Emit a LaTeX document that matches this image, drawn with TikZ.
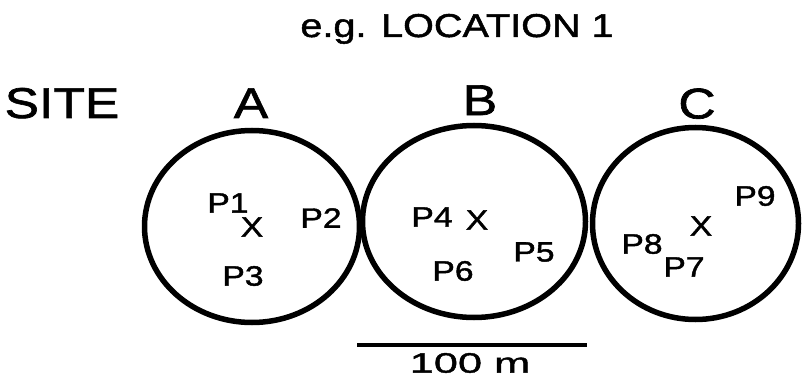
\documentclass[tikz,border=0pt]{standalone}
\usepackage{fontspec}
\setmainfont{Liberation Sans}[FakeStretch=1.2, FakeBold=1.5]
\newfontfamily\barfont{Liberation Sans}[FakeStretch=1.55, FakeBold=1.5]
\usetikzlibrary{shapes.geometric,positioning}
\tikzset{
  sitering/.style={draw, ellipse, line width=2.75pt, inner sep=0pt},
  titlelab/.style={font=\fontsize{16.5}{19}\selectfont, anchor=base, inner sep=0pt},
  sitelab/.style={font=\fontsize{21.5}{25}\selectfont, anchor=base, inner sep=0pt},
  ptlab/.style={font=\fontsize{14}{16}\selectfont, inner sep=0pt},
  barlab/.style={font=\barfont\fontsize{14}{16}\selectfont, inner sep=0pt},
  scalebar/.style={line width=2pt},
}
\begin{document}
\begin{tikzpicture}[x=0.5pt, y=-0.5pt]
  \useasboundingbox (0,0) rectangle (802,385);
  % headings
  \node[titlelab] (title) at (457,37) {e.g. LOCATION 1};
  \node[sitelab] (site) at (62,118) {SITE};
  % the three sites
  \node[sitering, minimum width=107.5pt, minimum height=96pt] (siteA) at (252,226.5) {};
  \node[sitering, minimum width=111.5pt, minimum height=96pt] (siteB) at (474,221.5) {};
  \node[sitering, minimum width=103pt, minimum height=96pt] (siteC) at (695.5,223.5) {};
  \node[sitelab] (labA) at (251,118) {A};
  \node[sitelab] (labB) at (480,115) {B};
  \node[sitelab] (labC) at (697,118.5) {C};
  % points in site A
  \node[ptlab] (p1) at (228,203) {P1};
  \node[ptlab] (cA) at (252,227) {X};
  \node[ptlab] (p2) at (321,218) {P2};
  \node[ptlab] (p3) at (243,276) {P3};
  % points in site B
  \node[ptlab] (p4) at (432,217) {P4};
  \node[ptlab] (cB) at (477,220) {X};
  \node[ptlab] (p5) at (534,252) {P5};
  \node[ptlab] (p6) at (453,271) {P6};
  % points in site C
  \node[ptlab] (p9) at (755,196) {P9};
  \node[ptlab] (cC) at (701,226) {X};
  \node[ptlab] (p8) at (642,244) {P8};
  \node[ptlab] (p7) at (684,267) {P7};
  % scale
  \coordinate (barL) at (357,345);
  \coordinate (barR) at (587,345);
  \draw[scalebar] (barL) -- (barR);
  \node[barlab] (bartxt) at (470,363) {100 m};
\end{tikzpicture}
\end{document}
